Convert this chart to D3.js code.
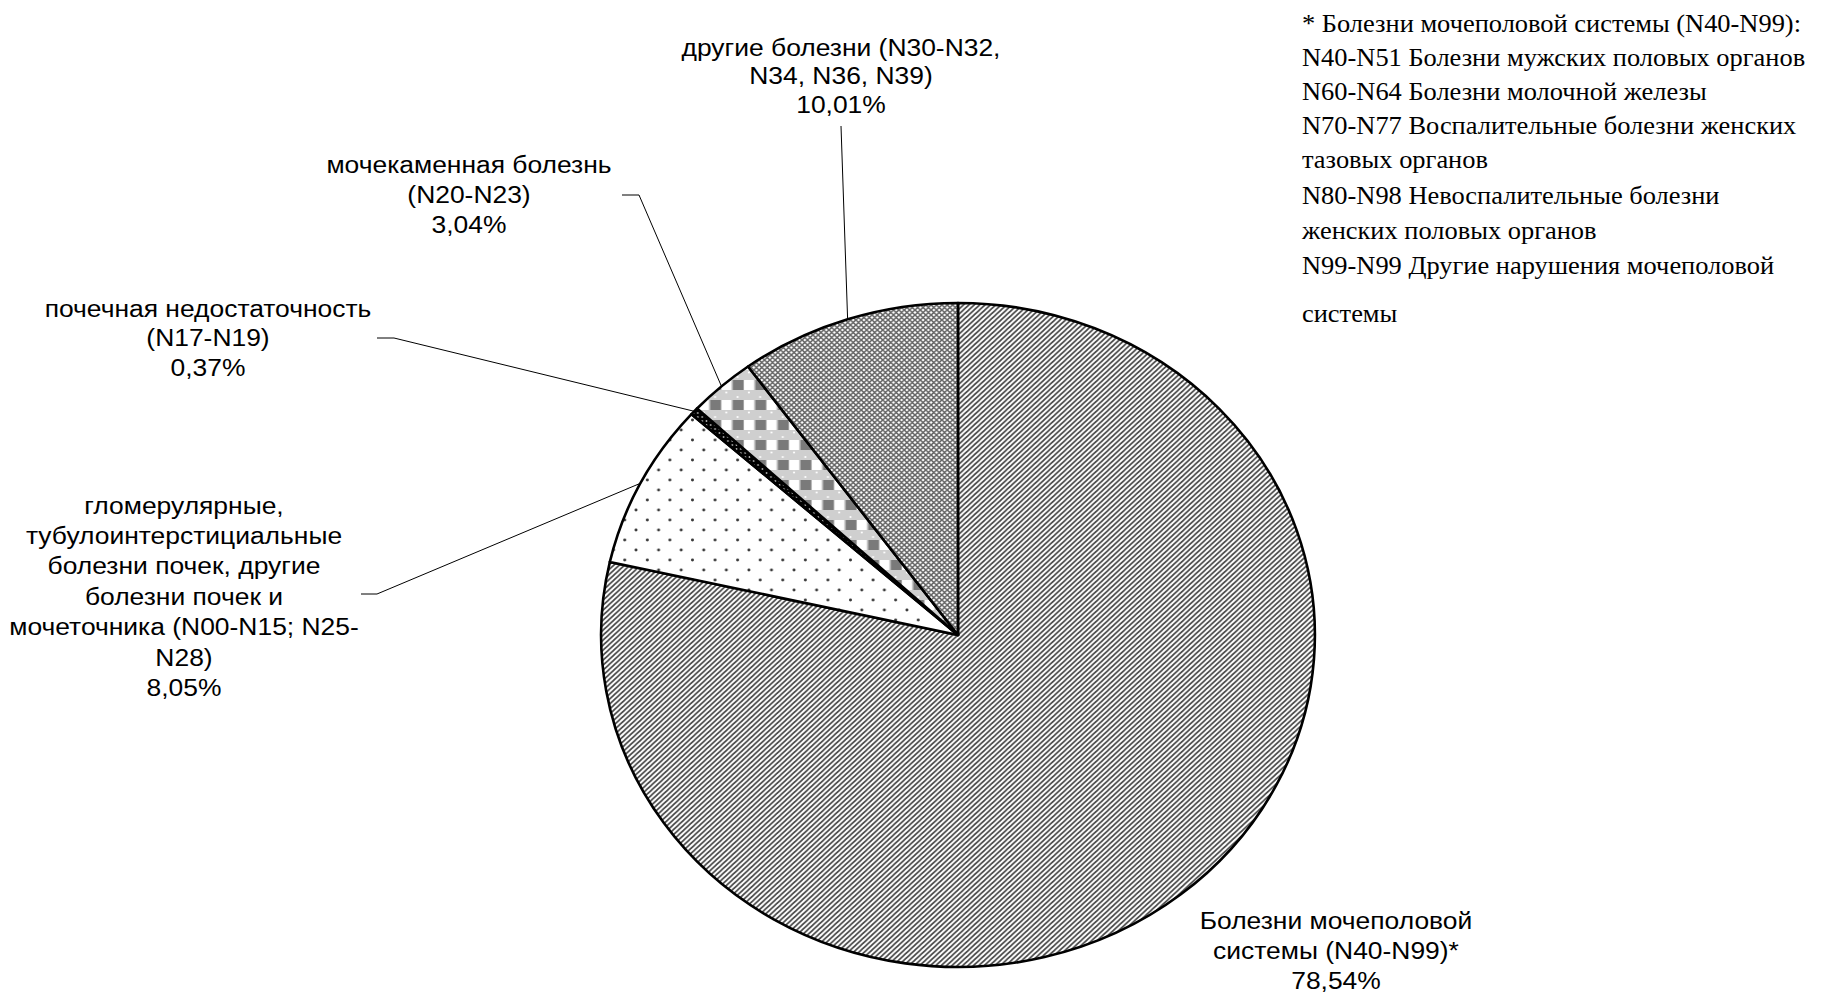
<!DOCTYPE html>
<html>
<head>
<meta charset="utf-8">
<script src="https://cdn.jsdelivr.net/npm/d3@7"></script>
<style>
  body { margin: 0; background: #fff; }
  svg { display: block; }
</style>
</head>
<body>
<svg></svg>
<script>
var width = 1834,
    height = 996;

// data
var categories = [
  "Болезни мочеполовой системы (N40-N99)*",
  "гломерулярные, тубулоинтерстициальные болезни почек, другие болезни почек и мочеточника (N00-N15; N25-N28)",
  "почечная недостаточность (N17-N19)",
  "мочекаменная болезнь (N20-N23)",
  "другие болезни (N30-N32, N34, N36, N39)"
];
var values = [78.54, 8.05, 0.37, 3.04, 10.01];
var labelLines = [
  ["Болезни мочеполовой", "системы (N40-N99)*"],
  ["гломерулярные,", "тубулоинтерстициальные", "болезни почек, другие", "болезни почек и", "мочеточника (N00-N15; N25-", "N28)"],
  ["почечная недостаточность", "(N17-N19)"],
  ["мочекаменная болезнь", "(N20-N23)"],
  ["другие болезни (N30-N32,", "N34, N36, N39)"]
];
var footnote = [
  "* Болезни мочеполовой системы (N40-N99):",
  "N40-N51 Болезни мужских половых органов",
  "N60-N64 Болезни молочной железы",
  "N70-N77 Воспалительные болезни женских",
  "тазовых органов",
  "N80-N98 Невоспалительные болезни",
  "женских половых органов",
  "N99-N99 Другие нарушения мочеполовой",
  "системы"
];

// layout
var sx = 1.075,
    cx = 958, cy = 635,
    ry = 332, rx = ry * sx;
var labelPos = [[1336, 920], [184, 505], [208, 308], [469, 164], [841, 47]];
var lineH = [30, 30.4, 29.6, 30, 28.8];
var leaderStart = [null, [361, 594, 377], [377, 338, 394], [622, 195, 639], [841, 126, 841]];
var footY = [23, 57, 91, 125, 159, 195, 230, 265, 313];
var fills = ["url(#diag)", "url(#dots)", "url(#dark)", "url(#check)", "url(#grid)"];

var svg = d3.select("svg")
  .attr("width", width)
  .attr("height", height);

var defs = svg.append("defs");

var p1 = defs.append("pattern").attr("id", "diag")
  .attr("patternUnits", "userSpaceOnUse").attr("width", 5).attr("height", 5);
p1.append("rect").attr("width", 5).attr("height", 5).attr("fill", "#fff");
p1.append("path").attr("d", "M0,5L5,0M-1,1L1,-1M4,6L6,4")
  .attr("stroke", "#4a4a4a").attr("stroke-width", 1.6);

var p2 = defs.append("pattern").attr("id", "dots")
  .attr("patternUnits", "userSpaceOnUse").attr("width", 21).attr("height", 20);
p2.append("rect").attr("width", 21).attr("height", 20).attr("fill", "#fff");
p2.append("circle").attr("cx", 5).attr("cy", 5).attr("r", 1.4).attr("fill", "#3a3a3a");
p2.append("circle").attr("cx", 15.5).attr("cy", 15).attr("r", 1.4).attr("fill", "#3a3a3a");

var p3 = defs.append("pattern").attr("id", "dark")
  .attr("patternUnits", "userSpaceOnUse").attr("width", 4).attr("height", 4);
p3.append("rect").attr("width", 4).attr("height", 4).attr("fill", "#000");
p3.append("circle").attr("cx", 2).attr("cy", 2).attr("r", 0.8).attr("fill", "#fff");

var p4 = defs.append("pattern").attr("id", "check")
  .attr("patternUnits", "userSpaceOnUse").attr("width", 21).attr("height", 20);
p4.append("rect").attr("width", 21).attr("height", 20).attr("fill", "#cfcfcf");
p4.append("rect").attr("x", 0.5).attr("y", 5).attr("width", 10).attr("height", 10).attr("fill", "#7a7a7a");
p4.append("rect").attr("x", 11).attr("y", 5).attr("width", 9).attr("height", 10).attr("fill", "#fff");
p4.append("circle").attr("cx", 5).attr("cy", 2).attr("r", 1).attr("fill", "#fff");
p4.append("circle").attr("cx", 15.5).attr("cy", 17.5).attr("r", 1).attr("fill", "#fff");

var p5 = defs.append("pattern").attr("id", "grid")
  .attr("patternUnits", "userSpaceOnUse").attr("width", 5).attr("height", 5);
p5.append("rect").attr("width", 5).attr("height", 5).attr("fill", "#fff");
p5.append("path").attr("d", "M0,0L5,5M5,0L0,5")
  .attr("stroke", "#666").attr("stroke-width", 1.5);

var pie = d3.pie().sort(null).value(function(d) { return d; });
var arc = d3.arc().innerRadius(0).outerRadius(ry);
var arcs = pie(values);

var fmt = function(v) { return d3.format(".2f")(v).replace(".", ",") + "%"; };

function edgePoint(a) {
  return [cx + rx * Math.sin(a), cy - ry * Math.cos(a)];
}

// leader lines
svg.append("g")
  .selectAll("path")
  .data(arcs.filter(function(d, i) { return leaderStart[i]; }))
  .enter().append("path")
  .attr("d", function(d) {
    var s = leaderStart[d.index],
        e = edgePoint((d.startAngle + d.endAngle) / 2);
    return "M" + s[0] + "," + s[1] + "L" + s[2] + "," + s[1] + "L" + e[0] + "," + e[1];
  })
  .attr("fill", "none")
  .attr("stroke", "#000")
  .attr("stroke-width", 1);

var pieGroup = svg.append("g")
  .attr("transform", "translate(" + cx + "," + cy + ") scale(" + sx + ",1)");

pieGroup.selectAll("path")
  .data(arcs)
  .enter().append("path")
  .attr("d", arc)
  .attr("fill", function(d, i) { return fills[i]; })
  .attr("stroke", "#000")
  .attr("stroke-width", 2.6)
  .attr("stroke-linejoin", "round")
  .attr("vector-effect", "non-scaling-stroke");

// labels
var labels = svg.append("g")
  .attr("font-family", "'Liberation Sans', Arial, sans-serif")
  .attr("font-size", "24.6px")
  .attr("fill", "#000")
  .attr("text-anchor", "middle");

values.forEach(function(v, i) {
  var lines = labelLines[i].concat([fmt(v)]);
  lines.forEach(function(t, j) {
    labels.append("text")
      .attr("transform", "translate(" + labelPos[i][0] + "," + (labelPos[i][1] + j * lineH[i]) + ") scale(" + sx + ",1)")
      .attr("dy", "0.35em")
      .text(t);
  });
});

// footnote
var foot = svg.append("g")
  .attr("font-family", "'Liberation Serif', 'Times New Roman', serif")
  .attr("font-size", "24.6px")
  .attr("fill", "#000");

foot.selectAll("text")
  .data(footnote)
  .enter().append("text")
  .attr("transform", function(d, i) { return "translate(1302," + footY[i] + ") scale(" + sx + ",1)"; })
  .attr("dy", "0.35em")
  .text(function(d) { return d; });
</script>
</body>
</html>
